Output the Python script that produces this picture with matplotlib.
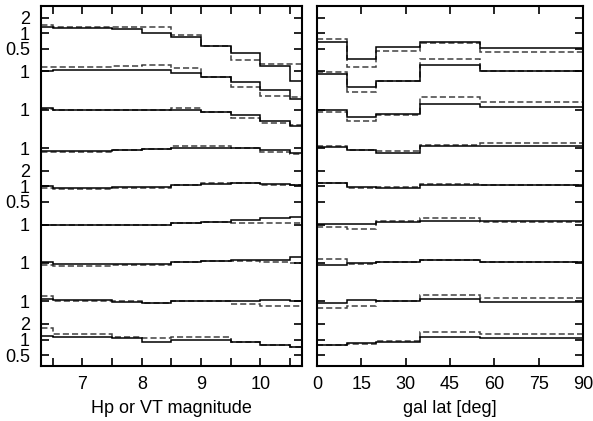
import numpy as np
import matplotlib
matplotlib.use("Agg")
import matplotlib.pyplot as plt

plt.rcParams['font.family'] = ['Liberation Sans', 'DejaVu Sans']

# bin edges
mag_edges = [6.0, 6.5, 7.5, 8.0, 8.5, 9.0, 9.5, 10.0, 10.5, 11.0]
lat_edges = [0, 10, 20, 35, 55, 90]

# ratios per row (top row first), solid and dashed histograms
mag_solid = [
    [1.29, 1.25, 1.18, 1.03, 0.83, 0.57, 0.41, 0.23, 0.12],
    [1.01, 1.09, 1.06, 1.05, 0.94, 0.79, 0.63, 0.45, 0.30],
    [1.08, 1.00, 0.97, 1.00, 1.00, 0.90, 0.80, 0.61, 0.48],
    [0.88, 0.88, 0.92, 0.96, 1.01, 1.01, 1.01, 0.92, 0.79],
    [1.03, 0.92, 0.99, 0.99, 1.06, 1.11, 1.18, 1.11, 1.08],
    [1.00, 1.00, 1.00, 1.00, 1.06, 1.14, 1.23, 1.32, 1.38],
    [1.03, 0.97, 0.96, 0.96, 1.05, 1.08, 1.13, 1.16, 1.29],
    [1.09, 1.05, 0.97, 0.93, 1.01, 1.00, 1.01, 1.05, 1.01],
    [1.16, 1.13, 1.08, 0.90, 1.00, 0.96, 0.89, 0.78, 0.71],
]
mag_dashed = [
    [1.43, 1.34, 1.34, 1.34, 0.93, 0.57, 0.30, 0.25, 0.25],
    [1.23, 1.23, 1.27, 1.34, 1.18, 0.79, 0.51, 0.34, 0.32],
    [1.05, 1.00, 0.97, 1.00, 1.08, 0.90, 0.69, 0.55, 0.50],
    [0.83, 0.85, 0.92, 0.96, 1.11, 1.11, 1.01, 0.83, 0.76],
    [0.92, 0.90, 0.92, 0.92, 1.06, 1.14, 1.18, 1.06, 1.05],
    [0.985, 0.985, 0.985, 0.985, 1.08, 1.14, 1.08, 1.08, 1.06],
    [0.93, 0.89, 0.90, 0.93, 1.05, 1.08, 1.11, 1.05, 1.00],
    [1.25, 1.03, 1.00, 0.93, 1.03, 1.00, 0.875, 0.80, 0.80],
    [1.68, 1.29, 1.13, 1.05, 1.11, 1.11, 0.89, 0.80, 0.71],
]
lat_solid = [
    [0.67, 0.32, 0.54, 0.67, 0.51],
    [0.89, 0.51, 0.66, 1.34, 1.00],
    [1.00, 0.72, 0.83, 1.27, 1.12],
    [1.07, 0.92, 0.82, 1.10, 1.08],
    [1.18, 0.98, 0.92, 1.05, 1.07],
    [1.03, 1.05, 1.11, 1.19, 1.16],
    [0.93, 1.00, 1.05, 1.13, 1.06],
    [0.93, 1.05, 1.00, 1.08, 0.97],
    [0.78, 0.86, 0.89, 1.13, 1.05],
]
lat_dashed = [
    [0.79, 0.22, 0.45, 0.65, 0.43],
    [0.97, 0.40, 0.66, 1.75, 1.00],
    [0.90, 0.62, 0.80, 1.73, 1.39],
    [1.12, 0.92, 0.88, 1.15, 1.25],
    [1.18, 0.93, 0.98, 1.12, 1.07],
    [0.90, 0.83, 1.16, 1.34, 1.11],
    [1.21, 0.96, 1.03, 1.16, 1.06],
    [0.74, 0.80, 1.00, 1.30, 1.13],
    [0.80, 0.83, 0.93, 1.38, 1.30],
]

step = 0.7365  # vertical offset between rows, in decades
nrows = len(mag_solid)

fig = plt.figure(figsize=(5.93, 4.21), dpi=100)
ax1 = fig.add_axes([0.0691, 0.1306, 0.4401, 0.8560])
ax2 = fig.add_axes([0.5346, 0.1306, 0.4486, 0.8560])

# y ticks: "1" for every row, plus 2 and 0.5 on rows 0, 4, 8
yt, yl = [], []
for k in range(nrows):
    off = -k * step
    if k in (0, 4, 8):
        yt += [off + np.log10(2), off, off + np.log10(0.5)]
        yl += ["2", "1", "0.5"]
    else:
        yt.append(off)
        yl.append("1")

for ax, edges, solid, dashed in ((ax1, mag_edges, mag_solid, mag_dashed),
                                 (ax2, lat_edges, lat_solid, lat_dashed)):
    for k in range(nrows):
        off = -k * step
        ax.stairs(np.log10(dashed[k]) + off, edges, baseline=None,
                  color="0.25", lw=1.1, linestyle=(0, (4, 2)))
        ax.stairs(np.log10(solid[k]) + off, edges, baseline=None,
                  color="black", lw=1.1)
    ax.set_ylim(-(nrows - 1) * step - 0.51, 0.53)
    ax.set_yticks(yt)
    ax.tick_params(direction="in", top=True, right=True, length=6,
                   width=1.2, labelsize=13)
    ax.tick_params(axis="y", pad=8)
    ax.tick_params(axis="x", pad=7)
    for s in ax.spines.values():
        s.set_linewidth(1.5)

ax1.set_yticklabels(yl)
ax2.set_yticklabels([])

ax1.set_xlim(6.3, 10.7)
ax1.set_xticks(np.arange(6.5, 10.6, 0.5))
ax1.set_xticklabels(["" if v % 1 else str(int(v)) for v in np.arange(6.5, 10.6, 0.5)])
ax1.set_xlabel("Hp or VT magnitude", fontsize=13, labelpad=5)

ax2.set_xlim(0, 90)
ax2.set_xticks(np.arange(0, 91, 15))
ax2.set_xlabel("gal lat [deg]", fontsize=13, labelpad=5)

fig.savefig("out.png", dpi=100)
